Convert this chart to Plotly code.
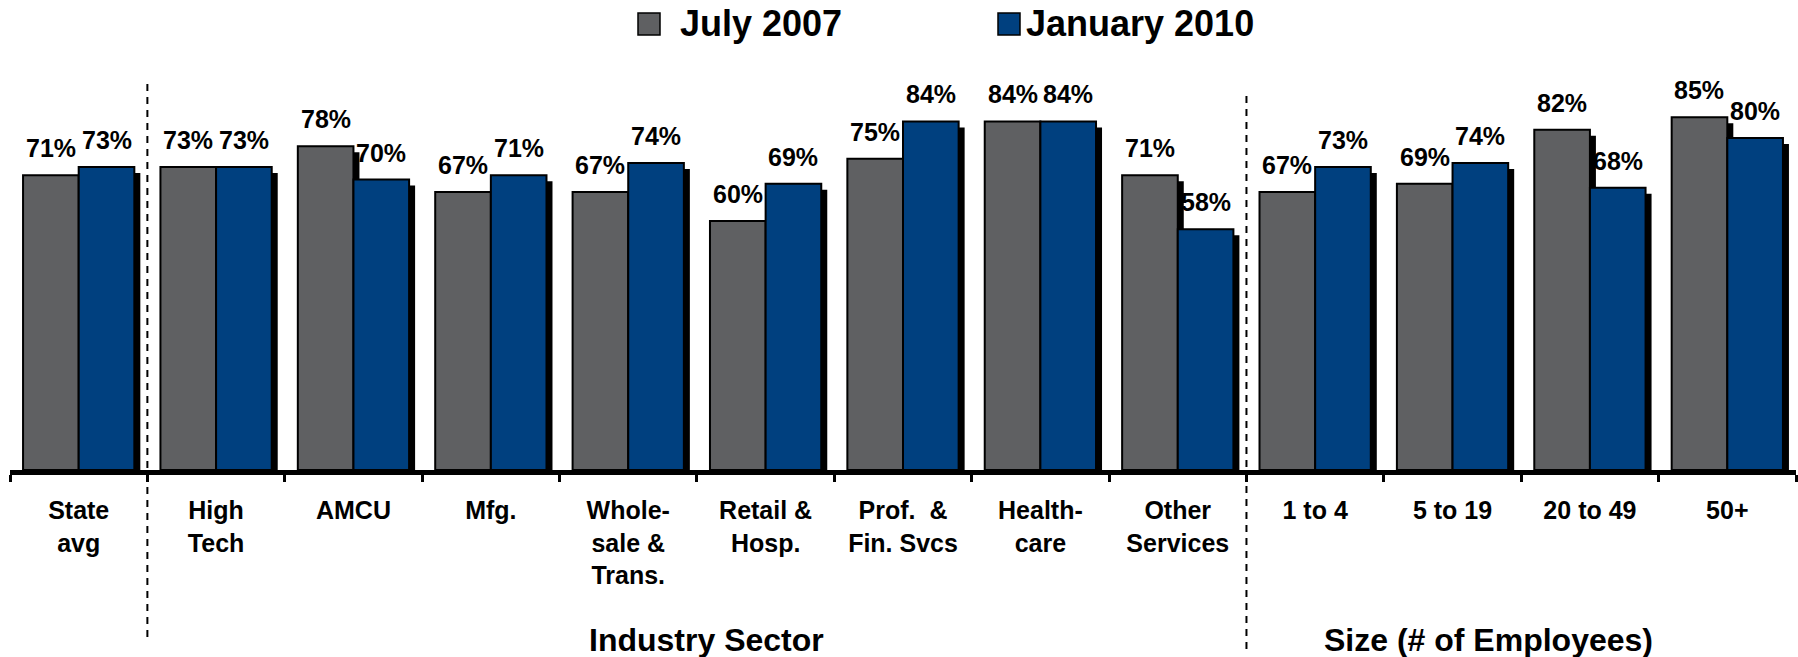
import plotly.graph_objects as go

categories = ["State<br>avg", "High<br>Tech", "AMCU", "Mfg.", "Whole-<br>sale &<br>Trans.",
              "Retail &<br>Hosp.", "Prof.  &<br>Fin. Svcs", "Health-<br>care", "Other<br>Services",
              "1 to 4", "5 to 19", "20 to 49", "50+"]
july_2007 = [71, 73, 78, 67, 67, 60, 75, 84, 71, 67, 69, 82, 85]
jan_2010 = [73, 73, 70, 71, 74, 69, 84, 84, 58, 73, 74, 68, 80]
series_names = ["July 2007", "January 2010"]
group_labels = ["Industry Sector", "Size (# of Employees)"]

GRAY = "#5f6062"
BLUE = "#00407f"
FONT = "Liberation Sans, Arial, sans-serif"

W, H = 1798, 657
ML, MT = 10, 60
MB = H - 470
MR = W - 1796
PW = W - ML - MR
PH = H - MT - MB
PX_PER_PCT = 4.15
YMAX = PH / PX_PER_PCT
CAT_PX = PW / len(categories)

BW = 0.405             # bar width in category units
SH_X = 6 / CAT_PX      # shadow offset (right)
SH_Y = 6 / PX_PER_PCT  # shadow offset (down)


def px_x(px):
    return (px - ML) / PW


def px_y(py):
    return (H - MB - py) / PH


fig = go.Figure()

# shadows
for vals, off in [(july_2007, -BW), (jan_2010, 0.0)]:
    fig.add_trace(go.Bar(
        x=categories, y=[v - SH_Y for v in vals], width=BW, offset=off + SH_X,
        marker=dict(color="black", line=dict(width=0)),
        showlegend=False, hoverinfo="skip"))

for name, vals, off, col in [(series_names[0], july_2007, -BW, GRAY),
                             (series_names[1], jan_2010, 0.0, BLUE)]:
    fig.add_trace(go.Bar(
        name=name, x=categories, y=vals, width=BW, offset=off,
        marker=dict(color=col, line=dict(color="black", width=2)),
        showlegend=False))

# value labels
annotations = []
for vals, dx in [(july_2007, -BW / 2), (jan_2010, BW / 2)]:
    for i, v in enumerate(vals):
        annotations.append(dict(
            x=i + dx, y=v, xref="x", yref="y", text=f"{v}%", showarrow=False,
            yanchor="middle", yshift=27,
            font=dict(family=FONT, size=25, color="black", weight="bold")))

# group labels
for label, cx in zip(group_labels, [706, 1488]):
    annotations.append(dict(x=px_x(cx), y=px_y(640), xref="paper", yref="paper",
                            text=label, showarrow=False, xanchor="center", yanchor="middle",
                            font=dict(family=FONT, size=32, color="black", weight="bold")))

# legend (manual, large swatches)
legend_items = [(series_names[0], GRAY, 638, 678), (series_names[1], BLUE, 998, 1024)]
shapes = []
for name, col, sx, tx in legend_items:
    shapes.append(dict(type="rect", xref="paper", yref="paper",
                       x0=px_x(sx), x1=px_x(sx + 22), y0=px_y(35), y1=px_y(13),
                       fillcolor=col, line=dict(color="black", width=1.5)))
    annotations.append(dict(x=px_x(tx), y=px_y(24), xref="paper", yref="paper",
                            text=name, showarrow=False, xanchor="left", yanchor="middle",
                            font=dict(family=FONT, size=36, color="black", weight="bold")))

# dashed separators
for xpos, top, bottom in [(0.5, 81, 637), (8.5, 94, 649)]:
    shapes.append(dict(type="line", xref="x", yref="paper", x0=xpos, x1=xpos,
                       y0=px_y(bottom), y1=px_y(top),
                       line=dict(color="black", width=2, dash="7px,6px")))

fig.update_layout(
    width=W, height=H,
    margin=dict(l=ML, r=MR, t=MT, b=MB),
    plot_bgcolor="white", paper_bgcolor="white",
    barmode="overlay",
    showlegend=False,
    annotations=annotations,
    shapes=shapes,
    xaxis=dict(type="category", showline=True, linecolor="black", linewidth=5,
               ticks="outside", tickson="boundaries", ticklen=7, tickwidth=3, tickcolor="black",
               ticklabelstandoff=14, showgrid=False, zeroline=False,
               tickfont=dict(family=FONT, size=25, color="black", weight="bold"),
               range=[-0.5, len(categories) - 0.5]),
    yaxis=dict(visible=False, range=[0, YMAX], showgrid=False, zeroline=False),
)

fig.write_html("out.html",
               config={"displayModeBar": False},
               post_script="document.body.style.margin='0';document.body.style.overflow='hidden';")
